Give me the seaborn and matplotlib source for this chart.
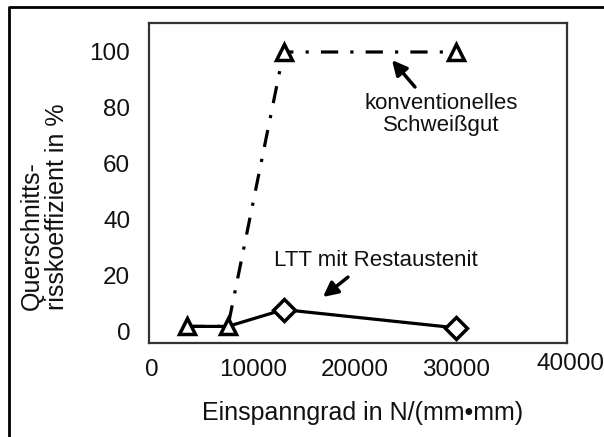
import matplotlib as mpl
import matplotlib.pyplot as plt
import matplotlib.transforms as mtransforms
from matplotlib.lines import Line2D
import seaborn as sns

mpl.use('Agg')

# data
konv_x = [3500, 7500, 13000, 30000]
konv_y = [2, 2, 100, 100]
ltt_x = [3500, 7500, 13000, 30000]
ltt_y = [2, 2, 8, 1.5]

x_ticks = [0, 10000, 20000, 30000, 40000]
y_ticks = [0, 20, 40, 60, 80, 100]

sns.set_style('white')
plt.rcParams['font.family'] = ['Liberation Sans', 'DejaVu Sans']

fig, ax = plt.subplots(figsize=(6.04, 4.37), dpi=100)
fig.subplots_adjust(left=.2467, right=.9387, bottom=.2151, top=.9474)

# konventionelles Schweissgut: dash-dot
sns.lineplot(x=konv_x, y=konv_y, ax=ax, color='black', linewidth=2.3,
             linestyle=(0, (5.4, 3.8, 1.0, 3.8)), zorder=2)
# LTT mit Restaustenit: solid
sns.lineplot(x=ltt_x, y=ltt_y, ax=ax, color='black', linewidth=2.3, zorder=3)

# markers
sns.lineplot(x=konv_x, y=konv_y, ax=ax, color='black', linestyle='none',
             marker='^', ms=11, mfc='white', mec='black', mew=2.5, zorder=4)
sns.lineplot(x=ltt_x[2:], y=ltt_y[2:], ax=ax, color='black', linestyle='none',
             marker='D', ms=11, mfc='white', mec='black', mew=2.5, zorder=4)

ax.set_xlim(-300, 41000)
ax.set_ylim(-3.93, 110.36)
ax.set_xticks(x_ticks)
ax.set_yticks(y_ticks)
ax.set_xticklabels([str(t) for t in x_ticks])
ax.tick_params(axis='x', length=0, pad=11.5, labelsize=17.5, labelcolor='#111111')
ax.tick_params(axis='y', length=0, pad=13.5, labelsize=17.5, labelcolor='#111111')

# last x label sits a bit right and higher in the original
lbl = ax.get_xticklabels()[-1]
lbl.set_transform(lbl.get_transform() +
                  mtransforms.ScaledTranslation(14 / 100, 6 / 100, fig.dpi_scale_trans))

for s in ax.spines.values():
    s.set_color('#333333')
    s.set_linewidth(1.6)

ax.set_xlabel('Einspanngrad in N/(mm•mm)', fontsize=18, color='#111111', va='center')
ax.xaxis.set_label_coords(.51, -.219)
ax.set_ylabel('Querschnitts-\nrisskoeffizient in %', fontsize=18, color='#111111',
              va='center', multialignment='left', linespacing=1.05)
ax.yaxis.set_label_coords(-.251, .425)

# annotations
arrow = dict(arrowstyle='-|>', lw=2.5, color='black', mutation_scale=22,
             shrinkA=0, shrinkB=0)
ax.text(28550, 77.7, 'konventionelles\nSchweißgut', fontsize=16, ha='center',
        va='center', linespacing=1.1, color='#111111')
ax.annotate('', xy=(23710, 97.1), xytext=(25980, 87.5), arrowprops=arrow)
ax.text(22130, 25.7, 'LTT mit Restaustenit', fontsize=16, ha='center', va='center',
        color='#111111')
ax.annotate('', xy=(16890, 12.5), xytext=(19360, 19.6), arrowprops=arrow)

# outer frame (left and top only)
fig.add_artist(Line2D([.0144, .0144, 1.0], [0, .9835, .9835],
                      transform=fig.transFigure, color='black', lw=2))

fig.savefig('out.png', dpi=100)
